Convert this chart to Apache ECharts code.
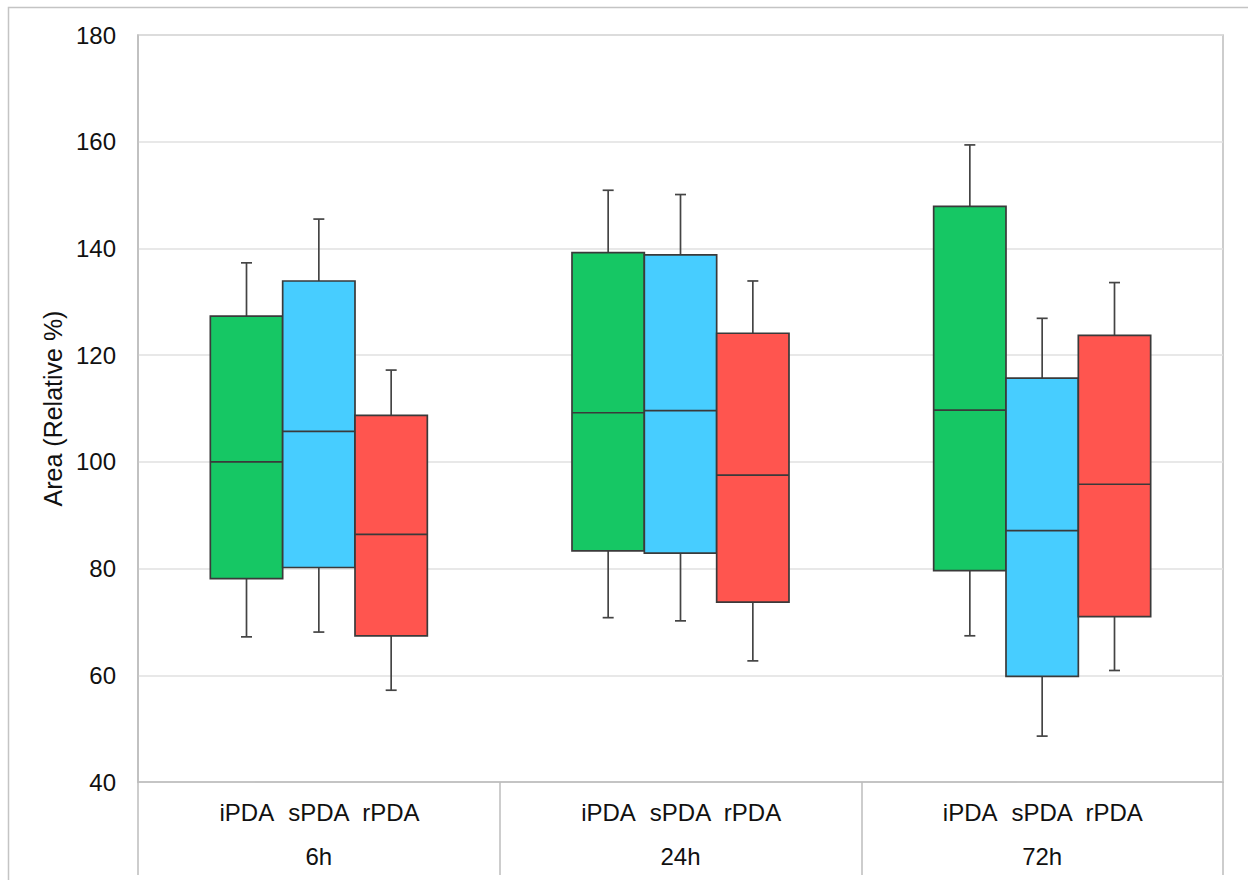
<!DOCTYPE html>
<html>
<head>
<meta charset="utf-8">
<script src="https://cdn.jsdelivr.net/npm/echarts@6/dist/echarts.min.js"></script>
<style>
  html, body { margin: 0; padding: 0; background: #ffffff; }
  #chart { width: 1248px; height: 880px; }
</style>
</head>
<body>
<div id="chart"></div>
<script>
// ---- data ----
const categories = ['6h', '24h', '72h'];
const groups = ['iPDA', 'sPDA', 'rPDA'];
const yTicks = [40, 60, 80, 100, 120, 140, 160, 180];
// each row: [min, Q1, median, Q3, max]
const iPDA = [
  [67.2, 78.1, 100.0, 127.3, 137.3],
  [70.8, 83.3, 109.2, 139.2, 150.9],
  [67.4, 79.6, 109.7, 147.9, 159.4]
];
const sPDA = [
  [68.1, 80.2, 105.7, 133.9, 145.5],
  [70.2, 82.9, 109.6, 138.8, 150.1],
  [48.6, 59.8, 87.1, 115.7, 126.9]
];
const rPDA = [
  [57.2, 67.4, 86.4, 108.7, 117.2],
  [62.7, 73.7, 97.5, 124.1, 133.9],
  [60.9, 71.0, 95.8, 123.7, 133.6]
];
const groupColors = ['#16C764', '#47CDFF', '#FF554F'];

// ---- build ----
const seriesData = [iPDA, sPDA, rPDA];
const BOX_RATIO = 0.2;
const FONT = 'Liberation Sans, Arial, Helvetica, sans-serif';
const STROKE = '#3a3a3a';

function makeRender(k) {
  return function (params, api) {
    const c = api.value(0);
    const band = api.size([1, 0])[0];
    const w = band * BOX_RATIO;
    const cx = api.coord([c, 0])[0] + (k - 1) * w;
    const yMin = api.coord([c, api.value(1)])[1];
    const yQ1 = api.coord([c, api.value(2)])[1];
    const yMed = api.coord([c, api.value(3)])[1];
    const yQ3 = api.coord([c, api.value(4)])[1];
    const yMax = api.coord([c, api.value(5)])[1];
    const cap = 5.5;
    const lineStyle = { stroke: '#444444', lineWidth: 1.7 };
    return {
      type: 'group',
      children: [
        { type: 'line', shape: { x1: cx, y1: yQ3, x2: cx, y2: yMax }, style: lineStyle },
        { type: 'line', shape: { x1: cx - cap, y1: yMax, x2: cx + cap, y2: yMax }, style: lineStyle },
        { type: 'line', shape: { x1: cx, y1: yQ1, x2: cx, y2: yMin }, style: lineStyle },
        { type: 'line', shape: { x1: cx - cap, y1: yMin, x2: cx + cap, y2: yMin }, style: lineStyle },
        { type: 'rect', shape: { x: cx - w / 2, y: yQ3, width: w, height: yQ1 - yQ3 },
          style: { fill: groupColors[k], stroke: STROKE, lineWidth: 1.7 } },
        { type: 'line', shape: { x1: cx - w / 2, y1: yMed, x2: cx + w / 2, y2: yMed },
          style: { stroke: STROKE, lineWidth: 1.7 } }
      ]
    };
  };
}

const series = groups.map(function (g, k) {
  return {
    name: g,
    type: 'custom',
    renderItem: makeRender(k),
    encode: { x: 0, y: [1, 2, 3, 4, 5] },
    data: seriesData[k].map(function (row, i) { return [i].concat(row); })
  };
});

const rich = {
  s: { width: 72, align: 'center', fontSize: 24, fontFamily: FONT, color: '#111', lineHeight: 44 },
  g: { align: 'center', fontSize: 24, fontFamily: FONT, color: '#111', lineHeight: 44 }
};

const chart = echarts.init(document.getElementById('chart'), null, { renderer: 'svg' });
chart.setOption({
  animation: false,
  backgroundColor: '#ffffff',
  graphic: [{
    type: 'rect', z: -10, silent: true,
    shape: { x: 8.5, y: 7.5, width: 1400, height: 1000 },
    style: { fill: 'none', stroke: '#c4c4c4', lineWidth: 1.5 }
  }],
  grid: {
    left: 138, top: 35, right: 25, bottom: 98,
    show: true, borderColor: '#bdbdbd', borderWidth: 1.5, backgroundColor: 'transparent'
  },
  xAxis: {
    type: 'category',
    data: categories,
    boundaryGap: true,
    axisLine: { show: true, lineStyle: { color: '#bdbdbd', width: 1.5 } },
    axisTick: { show: true, interval: 0, length: 93, lineStyle: { color: '#bdbdbd', width: 1.5 } },
    axisLabel: {
      interval: 0,
      margin: 8,
      formatter: function (v) {
        return groups.map(function (g) { return '{s|' + g + '}'; }).join('') + '\n{g|' + v + '}';
      },
      rich: rich
    },
    splitLine: { show: false }
  },
  yAxis: {
    type: 'value',
    min: yTicks[0],
    max: yTicks[yTicks.length - 1],
    interval: yTicks[1] - yTicks[0],
    name: 'Area (Relative %)',
    nameLocation: 'middle',
    nameRotate: 90,
    nameGap: 73,
    nameTextStyle: { fontSize: 25, fontFamily: FONT, color: '#111' },
    axisLine: { show: true, lineStyle: { color: '#bdbdbd', width: 1.5 } },
    axisTick: { show: false },
    axisLabel: { fontSize: 24, fontFamily: FONT, color: '#111', margin: 22 },
    splitLine: { show: true, lineStyle: { color: '#e0e0e0', width: 1.5 } }
  },
  series: series
});
</script>
</body>
</html>
